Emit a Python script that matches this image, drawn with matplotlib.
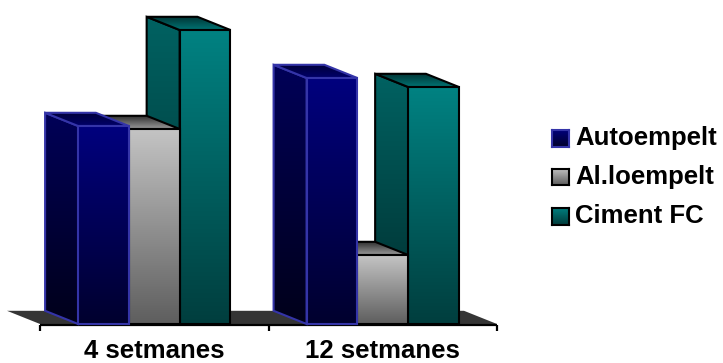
import numpy as np
import matplotlib
matplotlib.use("Agg")
import matplotlib.pyplot as plt
from matplotlib.patches import Polygon
from matplotlib.colors import to_rgb

# Data
categories = ["4 setmanes", "12 setmanes"]
series = ["Autoempelt", "Al.loempelt", "Ciment FC"]
autoempelt = [66, 82]
alloempelt = [65, 23]
ciment_fc = [98, 79]
values = [autoempelt, alloempelt, ciment_fc]

# Face styles per series: (front top, front bottom), (side top, side bottom),
# (top back, top front), edge colour
styles = [
    dict(front=("#00007e", "#00002e"), side=("#000058", "#00001a"),
         top=("#000038", "#00006a"), edge="#3434a8"),
    dict(front=("#c4c4c4", "#5e5e5e"), side=("#8a8a8a", "#404040"),
         top=("#2a2a2a", "#9a9a9a"), edge="#000000"),
    dict(front=("#008282", "#003e3e"), side=("#006262", "#002e2e"),
         top=("#003232", "#007474"), edge="#000000"),
]

fig = plt.figure(figsize=(7.23, 3.63), dpi=100)
ax = fig.add_axes([0, 0, 1, 1])
ax.set_axis_off()

XLIM = (-0.1751, 2.9891)
YLIM = (-13.0, 108.0)
DX, DY = -0.1444, 4.4          # depth offset of the 3-D effect
group_w = 2 / 3
bar_w = group_w / len(series)


def gradient_poly(verts, c1, c2, edge, lw=1.5, z=1):
    """Fill a polygon with a vertical gradient c1 (top) -> c2 (bottom)."""
    verts = np.asarray(verts)
    x0, x1 = verts[:, 0].min(), verts[:, 0].max()
    y0, y1 = verts[:, 1].min(), verts[:, 1].max()
    a, b = np.array(to_rgb(c1)), np.array(to_rgb(c2))
    t = np.linspace(0, 1, 256)[:, None]
    img = (a * (1 - t) + b * t)[:, None, :]
    poly = Polygon(verts, closed=True, facecolor="none", edgecolor="none", zorder=z)
    ax.add_patch(poly)
    im = ax.imshow(img, extent=(x0, x1, y0, y1), origin="upper",
                   aspect="auto", interpolation="bilinear", zorder=z)
    im.set_clip_path(poly)
    ax.add_patch(Polygon(verts, closed=True, facecolor="none", edgecolor=edge,
                         linewidth=lw, joinstyle="miter", zorder=z + 0.01))


def bar3d(x0, w, h, st, z):
    x1 = x0 + w
    side = [(x0, 0), (x0, h), (x0 + DX, h + DY), (x0 + DX, DY)]
    top = [(x0, h), (x1, h), (x1 + DX, h + DY), (x0 + DX, h + DY)]
    front = [(x0, 0), (x1, 0), (x1, h), (x0, h)]
    gradient_poly(side, *st["side"], st["edge"], z=z)
    gradient_poly(top, *st["top"], st["edge"], z=z + 0.1)
    gradient_poly(front, *st["front"], st["edge"], z=z + 0.2)


# Floor
floor = [(0, 0), (2, 0), (2 + DX, DY), (DX, DY)]
ax.add_patch(Polygon(floor, closed=True, facecolor="#353535", edgecolor="none", zorder=0.5))
ax.plot([0, 2], [-0.3, -0.3], color="black", lw=1.6, zorder=0.6, solid_capstyle="butt")
for xt in range(len(categories) + 1):
    ax.plot([xt, xt], [-0.3, -2.2], color="black", lw=1.6, zorder=0.6,
            solid_capstyle="butt")

# Bars: drawn right to left so nearer faces cover the hidden sides
z = 1
for i in range(len(categories)):
    for j in reversed(range(len(series))):
        x0 = i + (1 - group_w) / 2 + j * bar_w
        bar3d(x0, bar_w, values[j][i], styles[j], z)
        z += 1

# Category labels
for i, cat in enumerate(categories):
    ax.text(i + 0.5, -12.85, cat, ha="center", va="bottom",
            fontsize=18.5, fontweight="bold", family="Liberation Sans")

# Legend
leg_x = 0.7635
leg_rows = [1 - 138 / 363, 1 - 177 / 363, 1 - 216 / 363]
sq_w, sq_h = 17 / 723, 17 / 363
for k, name in enumerate(series):
    st = styles[k]
    yc = leg_rows[k]
    a, b = np.array(to_rgb(st["front"][0])), np.array(to_rgb(st["front"][1]))
    t = np.linspace(0, 1, 64)[:, None]
    img = (a * (1 - t) + b * t)[:, None, :]
    lax = fig.add_axes([leg_x, yc - sq_h / 2, sq_w, sq_h])
    lax.imshow(img, aspect="auto", extent=(0, 1, 0, 1), origin="upper")
    lax.set_xticks([])
    lax.set_yticks([])
    for sp in lax.spines.values():
        sp.set_edgecolor(st["edge"])
        sp.set_linewidth(1.5)
    fig.text(leg_x + sq_w + 6 / 723, yc, name, ha="left", va="center",
             fontsize=18.5, fontweight="bold", family="Liberation Sans")

ax.set_xlim(*XLIM)
ax.set_ylim(*YLIM)
fig.savefig("out.png", dpi=100)
